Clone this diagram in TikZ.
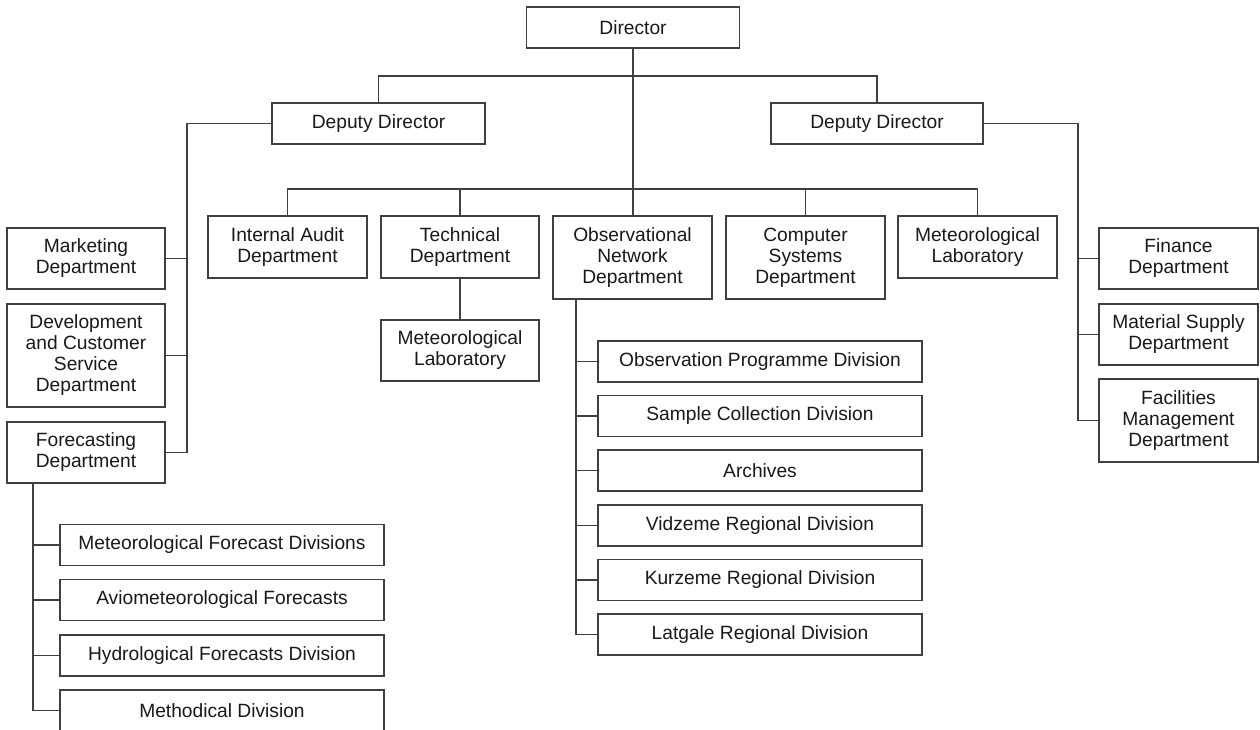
\documentclass[tikz,border=0pt]{standalone}
\usepackage{fontspec}
\setmainfont{Liberation Sans}
\begin{document}
\begin{tikzpicture}[x=1pt,y=-1pt,
  box/.style={draw=black!75,line width=1.2pt,fill=white,align=center,inner sep=0pt,
    font=\fontsize{19.2}{21}\selectfont,text=black!90},
  conn/.style={draw=black!75,line width=1.1pt}]
\useasboundingbox (0,0) rectangle (1260,730);
\clip (0,0) rectangle (1260,730);
% top level
\node[box,minimum width=213pt,minimum height=41pt] (dir) at (633,27.5) {Director};
\node[box,minimum width=213pt,minimum height=41pt] (dl) at (378.5,123.5) {Deputy Director};
\node[box,minimum width=212pt,minimum height=41pt] (dr) at (877,123.5) {Deputy Director};
% middle row
\node[box,minimum width=159pt,minimum height=62pt] (ia) at (287.5,247) {Internal Audit\\Department};
\node[box,minimum width=158pt,minimum height=62pt] (tech) at (460,247) {Technical\\Department};
\node[box,minimum width=159pt,minimum height=83pt] (obs) at (632.5,257.5) {Observational\\Network\\Department};
\node[box,minimum width=159pt,minimum height=83pt] (comp) at (805.5,257.5) {Computer\\Systems\\Department};
\node[box,minimum width=159pt,minimum height=62pt] (mla) at (977.5,247) {Meteorological\\Laboratory};
\node[box,minimum width=158pt,minimum height=61pt] (mlb) at (460,350.5) {Meteorological\\Laboratory};
% left column
\node[box,minimum width=158pt,minimum height=61pt] (mkt) at (86,258.5) {Marketing\\Department};
\node[box,minimum width=158pt,minimum height=103pt] (dev) at (86,355.5) {Development\\and Customer\\Service\\Department};
\node[box,minimum width=158pt,minimum height=61pt] (fc) at (86,452.5) {Forecasting\\Department};
% right column
\node[box,minimum width=159pt,minimum height=61pt] (fin) at (1178.5,258.5) {Finance\\Department};
\node[box,minimum width=159pt,minimum height=61pt] (mat) at (1178.5,334.5) {Material Supply\\Department};
\node[box,minimum width=159pt,minimum height=83pt] (fac) at (1178.5,420.5) {Facilities\\Management\\Department};
% observational subdivisions
\node[box,minimum width=324pt,minimum height=41pt] (o1) at (760,361.5) {Observation Programme Division};
\node[box,minimum width=324pt,minimum height=41pt] (o2) at (760,416) {Sample Collection Division};
\node[box,minimum width=324pt,minimum height=41pt] (o3) at (760,470.5) {Archives};
\node[box,minimum width=324pt,minimum height=41pt] (o4) at (760,525.5) {Vidzeme Regional Division};
\node[box,minimum width=324pt,minimum height=41pt] (o5) at (760,580) {Kurzeme Regional Division};
\node[box,minimum width=324pt,minimum height=41pt] (o6) at (760,634.5) {Latgale Regional Division};
% forecasting subdivisions
\node[box,minimum width=324pt,minimum height=41pt] (f1) at (222,545) {Meteorological Forecast Divisions};
\node[box,minimum width=324pt,minimum height=41pt] (f2) at (222,600) {Aviometeorological Forecasts};
\node[box,minimum width=324pt,minimum height=41pt] (f3) at (222,655.5) {Hydrological Forecasts Division};
\node[box,minimum width=324pt,minimum height=41pt] (f4) at (222,710.5) {Methodical Division};
% helper coordinates
\coordinate (bar1) at (633,76);
\coordinate (bar2) at (633,189);
\coordinate (lx) at (187,0);
\coordinate (rx) at (1078,0);
\coordinate (ox) at (576,0);
\coordinate (fx) at (33,0);
% connectors
\draw[conn] (dir.south) -- (dir.south |- obs.north);
\draw[conn] (dl.north) -- (dl.north |- bar1) -- (dr.north |- bar1) -- (dr.north);
\draw[conn] (ia.north) -- (ia.north |- bar2) -- (mla.north |- bar2) -- (mla.north);
\draw[conn] (tech.north) -- (tech.north |- bar2);
\draw[conn] (comp.north) -- (comp.north |- bar2);
\draw[conn] (tech.south) -- (mlb.north);
\draw[conn] (dl.west) -- (dl.west -| lx) -- (lx |- fc.east) -- (fc.east);
\draw[conn] (mkt.east) -- (mkt.east -| lx);
\draw[conn] (dev.east) -- (dev.east -| lx);
\draw[conn] (dr.east) -- (dr.east -| rx) -- (rx |- fac.west) -- (fac.west);
\draw[conn] (fin.west) -- (fin.west -| rx);
\draw[conn] (mat.west) -- (mat.west -| rx);
\draw[conn] (obs.south -| ox) -- (ox |- o6.west) -- (o6.west);
\foreach \n in {o1,o2,o3,o4,o5} \draw[conn] (\n.west) -- (\n.west -| ox);
\draw[conn] (fc.south -| fx) -- (fx |- f4.west) -- (f4.west);
\foreach \n in {f1,f2,f3} \draw[conn] (\n.west) -- (\n.west -| fx);
\end{tikzpicture}
\end{document}
